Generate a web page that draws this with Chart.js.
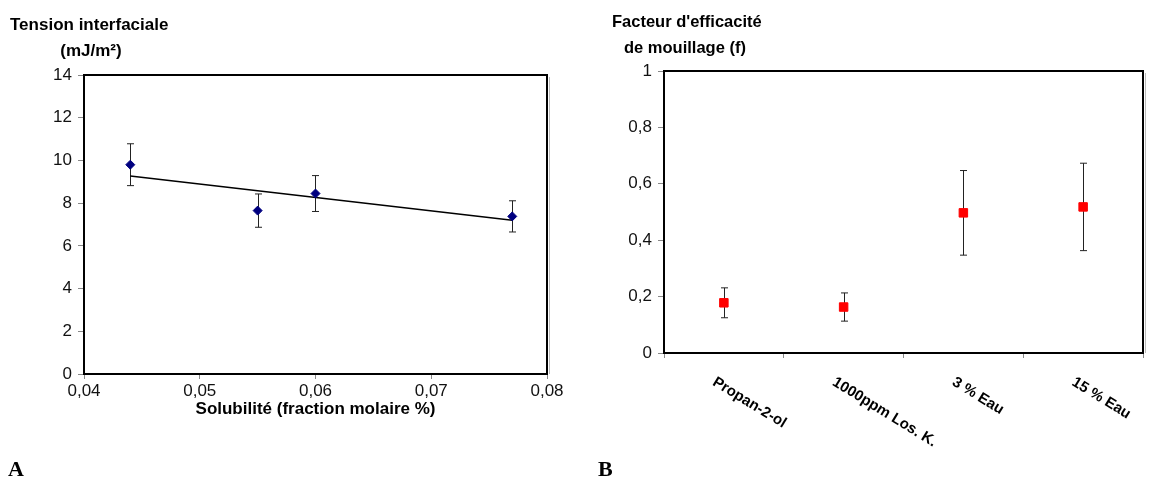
<!DOCTYPE html>
<html>
<head>
<meta charset="utf-8">
<script src="https://cdn.jsdelivr.net/npm/chart.js@4"></script>
<style>
  body { margin: 0; background: #fff; }
  #wrap { position: relative; width: 1153px; height: 487px; }
  canvas { position: absolute; top: 0; }
  #left { left: 0; }
  #right { left: 576px; }
</style>
</head>
<body>
<div id="wrap">
  <canvas id="left" width="576" height="487"></canvas>
  <canvas id="right" width="577" height="487"></canvas>
</div>
<script>
// ——— données A : tension interfaciale vs solubilité ———
const solX = [0.044, 0.055, 0.06, 0.077];
const tensionY = [9.8, 7.65, 8.45, 7.38];
const tensionErr = [0.98, 0.78, 0.84, 0.73];
const trendX = [0.044, 0.077];
const trendY = [9.27, 7.2];

// ——— données B : facteur d'efficacité de mouillage ———
const solvants = ["Propan-2-ol", "1000ppm Los. K.", "3 % Eau", "15 % Eau"];
const facteurF = [0.178, 0.163, 0.497, 0.518];
const facteurErr = [0.053, 0.05, 0.15, 0.155];

const FONT = "'Liberation Sans', Arial, sans-serif";
const comma = (v, d) => Number(v).toFixed(d).replace(".", ",");

// barres d'erreur + cadre
function errPlugin(errs) {
  return {
    id: "errbars",
    beforeDatasetsDraw(chart) {
      const ctx = chart.ctx, ys = chart.scales.y;
      const meta = chart.getDatasetMeta(0);
      const vals = chart.data.datasets[0].data;
      ctx.save();
      ctx.strokeStyle = "#222";
      ctx.lineWidth = 1;
      meta.data.forEach((pt, i) => {
        const v = typeof vals[i] === "object" ? vals[i].y : vals[i];
        const x = Math.round(pt.x) + 0.5;
        const y1 = ys.getPixelForValue(v + errs[i]);
        const y2 = ys.getPixelForValue(v - errs[i]);
        ctx.beginPath();
        ctx.moveTo(x, y1); ctx.lineTo(x, y2);
        ctx.moveTo(x - 3.5, y1); ctx.lineTo(x + 3.5, y1);
        ctx.moveTo(x - 3.5, y2); ctx.lineTo(x + 3.5, y2);
        ctx.stroke();
      });
      ctx.restore();
    },
    afterDraw(chart) {
      const a = chart.chartArea, ctx = chart.ctx;
      ctx.save();
      ctx.strokeStyle = "#bbb";
      ctx.lineWidth = 1;
      ctx.beginPath();
      ctx.moveTo(a.right + 2.5, a.top + 2); ctx.lineTo(a.right + 2.5, a.bottom);
      ctx.stroke();
      ctx.strokeStyle = "#000";
      ctx.lineWidth = 2;
      ctx.strokeRect(a.left, a.top, a.right - a.left, a.bottom - a.top);
      ctx.restore();
    }
  };
}

function textPlugin(items) {
  return {
    id: "texts",
    afterDraw(chart) {
      const ctx = chart.ctx;
      ctx.save();
      ctx.fillStyle = "#000";
      ctx.textBaseline = "middle";
      items.forEach(t => {
        ctx.font = t.font;
        ctx.textAlign = t.align || "left";
        ctx.fillText(t.text, t.x, t.y);
      });
      ctx.restore();
    }
  };
}

const tickFont = { family: FONT, size: 17 };

new Chart(document.getElementById("left"), {
  type: "scatter",
  data: {
    datasets: [
      {
        data: solX.map((x, i) => ({ x, y: tensionY[i] })),
        pointStyle: "rectRot",
        pointRadius: 4.5,
        pointBackgroundColor: "#000080",
        pointBorderColor: "#000080",
        order: 0
      },
      {
        type: "line",
        data: trendX.map((x, i) => ({ x, y: trendY[i] })),
        borderColor: "#000",
        borderWidth: 1.5,
        pointRadius: 0,
        order: 1
      }
    ]
  },
  options: {
    responsive: false,
    animation: false,
    layout: { padding: { left: 0, top: 75, right: 29, bottom: 0 } },
    plugins: { legend: { display: false }, tooltip: { enabled: false } },
    scales: {
      x: {
        type: "linear", min: 0.04, max: 0.08,
        afterFit: s => { s.height = 113; },
        ticks: { stepSize: 0.01, font: tickFont, color: "#111", padding: 2,
                 callback: v => comma(v, 2) },
        grid: { drawOnChartArea: false, tickLength: 5, color: "#888" },
        border: { color: "#000", width: 2 },
        title: { display: true, text: "Solubilité (fraction molaire %)",
                 font: { family: FONT, size: 17, weight: "bold" }, color: "#000",
                 padding: { top: 0, bottom: 67 } }
      },
      y: {
        min: 0, max: 14,
        afterFit: s => { s.width = 84; },
        ticks: { stepSize: 2, font: tickFont, color: "#111", padding: 6 },
        grid: { drawOnChartArea: false, tickLength: 6, color: "#888" },
        border: { color: "#000", width: 2 }
      }
    }
  },
  plugins: [errPlugin(tensionErr), textPlugin([
    { text: "Tension interfaciale", x: 10, y: 25, font: "bold 17px " + FONT },
    { text: "(mJ/m²)", x: 91, y: 51, align: "center", font: "bold 17px " + FONT },
    { text: "A", x: 8, y: 470, font: "bold 22px 'Liberation Serif', 'Times New Roman', serif" }
  ])]
});

// étiquettes inclinées sous l'axe des catégories
const slantLabels = {
  id: "slant",
  afterDraw(chart) {
    const ctx = chart.ctx, xs = chart.scales.x, a = chart.chartArea;
    ctx.save();
    ctx.font = "bold 15px " + FONT;
    ctx.fillStyle = "#000";
    ctx.textBaseline = "middle";
    ctx.textAlign = "left";
    solvants.forEach((lab, i) => {
      const x = xs.getPixelForValue(i);
      ctx.save();
      ctx.translate(x - 10, a.bottom + 28);
      ctx.rotate(0.55);
      ctx.fillText(lab, 0, 0);
      ctx.restore();
    });
    ctx.restore();
  }
};

new Chart(document.getElementById("right"), {
  type: "line",
  data: {
    labels: solvants,
    datasets: [{
      data: facteurF,
      showLine: false,
      pointStyle: "rect",
      pointRadius: 6,
      pointBackgroundColor: "#ff0000",
      pointBorderColor: "#ff0000"
    }]
  },
  options: {
    responsive: false,
    animation: false,
    layout: { padding: { left: 0, top: 71, right: 10, bottom: 0 } },
    plugins: { legend: { display: false }, tooltip: { enabled: false } },
    scales: {
      x: {
        type: "category", offset: true,
        afterFit: s => { s.height = 134; },
        ticks: { display: false },
        grid: { offset: true, drawOnChartArea: false, tickLength: 5, color: "#888" },
        border: { color: "#000", width: 2 }
      },
      y: {
        min: 0, max: 1,
        afterFit: s => { s.width = 88; },
        ticks: { stepSize: 0.2, font: tickFont, color: "#111", padding: 6,
                 callback: v => v === 0 || v === 1 ? String(v) : comma(v, 1) },
        grid: { drawOnChartArea: false, tickLength: 6, color: "#888" },
        border: { color: "#000", width: 2 }
      }
    }
  },
  plugins: [errPlugin(facteurErr), slantLabels, textPlugin([
    { text: "Facteur d'efficacité", x: 36, y: 22, font: "bold 16.5px " + FONT },
    { text: "de mouillage (f)", x: 48, y: 48, font: "bold 16.5px " + FONT },
    { text: "B", x: 22, y: 470, font: "bold 22px 'Liberation Serif', 'Times New Roman', serif" }
  ])]
});
</script>
</body>
</html>
